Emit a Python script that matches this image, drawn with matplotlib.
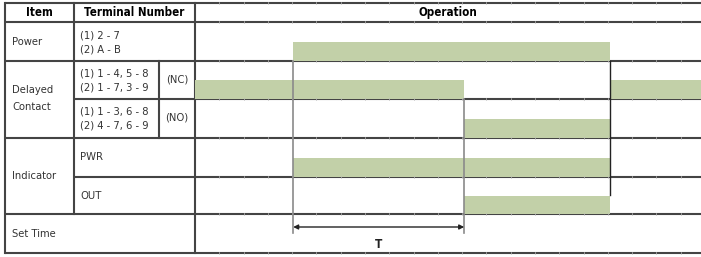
import matplotlib
matplotlib.use("Agg")
import matplotlib.pyplot as plt
from matplotlib import font_manager

# font: condensed look
names = {f.name for f in font_manager.fontManager.ttflist}
if "Liberation Sans Narrow" in names:
    plt.rcParams['font.family'] = ['Liberation Sans Narrow', 'DejaVu Sans']
else:
    plt.rcParams['font.family'] = ['DejaVu Sans']
    plt.rcParams['font.stretch'] = 'condensed'

# table layout (pixels)
W, H = 701, 257
row_edges = [3, 22, 61, 99, 138, 177, 214, 253]
col_item, col_term, col_sub, col_op = 5, 74, 159, 195

# signals in time units (operation area spans 0..10)
t_on = 1.94
t_set = 5.32
t_off = 8.20
power_on = [(t_on, t_off)]
nc_on = [(0, t_set), (t_off, 10)]
no_on = [(t_set, t_off)]
pwr_on = [(t_on, t_off)]
out_on = [(t_set, t_off)]
signals = [power_on, nc_on, no_on, pwr_on, out_on]

green = '#c2d0a8'
dark = '#444444'

fig = plt.figure(figsize=(W / 100, H / 100), dpi=100)
ax = fig.add_axes([0, 0, 1, 1])
ax.set_xlim(0, W)
ax.set_ylim(H, 0)
ax.axis('off')

# operation axes: x in time, y in same pixel rows
op = fig.add_axes([col_op / W, 0, 1 - col_op / W, 1])
op.set_xlim(0, 10)
op.set_ylim(H, 0)
op.axis('off')

# bars: lower half of each signal row
for i, sig in enumerate(signals):
    top, bot = row_edges[i + 1], row_edges[i + 2]
    mid = (top + bot) / 2
    for a, b in sig:
        op.fill_between([a, b], mid, bot, color=green, lw=0)

# horizontal lines
for k, y in enumerate(row_edges):
    x0 = col_item
    if k in (3, 5):
        x0 = col_term
    ax.plot([x0, W], [y, y], color=dark, lw=1.5, solid_capstyle='butt')

# faint ticks on horizontal lines in operation area
for y in row_edges:
    for k in range(1, 21):
        op.plot([k * 0.48, k * 0.48], [y - 0.8, y + 0.8], color='#bcbcbc', lw=0.5)

# vertical table lines
ax.plot([col_item, col_item], [row_edges[0], row_edges[-1]], color=dark, lw=1.5)
ax.plot([col_term, col_term], [row_edges[0], row_edges[6]], color=dark, lw=1.5)
ax.plot([col_sub, col_sub], [row_edges[2], row_edges[4]], color=dark, lw=1.5)
ax.plot([col_op, col_op], [row_edges[0], row_edges[-1]], color=dark, lw=1.5)

# timing edges
op.plot([t_on, t_on], [row_edges[2], 233], color='#8a8a8a', lw=1.2)
op.plot([t_set, t_set], [row_edges[3], 233], color='#8a8a8a', lw=1.2)
op.plot([t_off, t_off], [row_edges[2], 195], color='#222222', lw=1.0)

# set time arrow
op.annotate('', xy=(t_on, 227), xytext=(t_set, 227),
            arrowprops=dict(arrowstyle='<|-|>', color='#222222', lw=1.0,
                            mutation_scale=7, shrinkA=0, shrinkB=0))
op.text((t_on + t_set) / 2, 244, 'T', ha='center', va='center',
        fontsize=8.5, fontweight='bold', color='#222222')

# header
hfs = 8.3
ax.text((col_item + col_term) / 2, 12.5, 'Item', ha='center', va='center',
        fontsize=hfs, fontweight='bold')
ax.text((col_term + col_op) / 2, 12.5, 'Terminal Number', ha='center', va='center',
        fontsize=hfs, fontweight='bold')
ax.text((col_op + W) / 2, 12.5, 'Operation', ha='center', va='center',
        fontsize=hfs, fontweight='bold')

# left labels
fs = 8
tc = '#333333'
ax.text(12, 42, 'Power', va='center', fontsize=fs, color=tc)
ax.text(12, 90, 'Delayed', va='center', fontsize=fs, color=tc)
ax.text(12, 107, 'Contact', va='center', fontsize=fs, color=tc)
ax.text(12, 176, 'Indicator', va='center', fontsize=fs, color=tc)
ax.text(12, 234, 'Set Time', va='center', fontsize=fs, color=tc)

# terminal labels
ax.text(80, 35, '(1) 2 - 7', va='center', fontsize=fs, color=tc)
ax.text(80, 49, '(2) A - B', va='center', fontsize=fs, color=tc)
ax.text(80, 74, '(1) 1 - 4, 5 - 8', va='center', fontsize=fs, color=tc)
ax.text(80, 87, '(2) 1 - 7, 3 - 9', va='center', fontsize=fs, color=tc)
ax.text(80, 112, '(1) 1 - 3, 6 - 8', va='center', fontsize=fs, color=tc)
ax.text(80, 125, '(2) 4 - 7, 6 - 9', va='center', fontsize=fs, color=tc)
ax.text((col_sub + col_op) / 2, 80, '(NC)', ha='center', va='center', fontsize=fs, color=tc)
ax.text((col_sub + col_op) / 2, 118, '(NO)', ha='center', va='center', fontsize=fs, color=tc)
ax.text(80, 157, 'PWR', va='center', fontsize=fs, color=tc)
ax.text(80, 196, 'OUT', va='center', fontsize=fs, color=tc)

fig.savefig('out.png', dpi=100)
